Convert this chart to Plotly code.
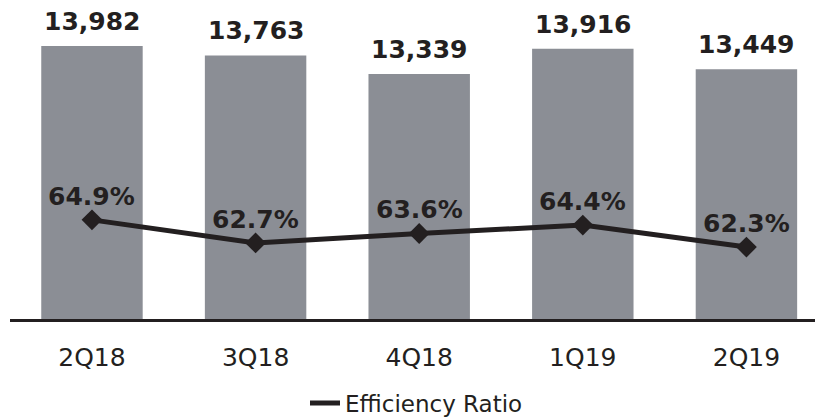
import plotly.graph_objects as go

quarters = ["2Q18", "3Q18", "4Q18", "1Q19", "2Q19"]
expenses = [13982, 13763, 13339, 13916, 13449]
efficiency = [64.9, 62.7, 63.6, 64.4, 62.3]

BAR_COLOR = "#8b8e95"
DARK = "#231f20"
FONT = "DejaVu Sans"

fig = go.Figure()
fig.add_trace(go.Bar(
    x=quarters, y=expenses, marker=dict(color=BAR_COLOR, line=dict(width=0)),
    width=0.62, showlegend=False, hoverinfo="skip",
))
fig.add_trace(go.Scatter(
    x=quarters, y=efficiency, yaxis="y2", mode="lines+markers",
    name="Efficiency Ratio", showlegend=False,
    line=dict(color=DARK, width=5),
    marker=dict(symbol="diamond", size=16, color=DARK),
))
# legend entry (line only)
fig.add_trace(go.Scatter(
    x=[None], y=[None], yaxis="y2", mode="lines", name="Efficiency Ratio",
    line=dict(color=DARK, width=5),
))

annotations = []
for q, v in zip(quarters, expenses):
    annotations.append(dict(
        x=q, y=v, xref="x", yref="y", text=f"<b>{v:,}</b>", showarrow=False,
        yanchor="bottom", yshift=8, font=dict(family=FONT, size=25, color=DARK),
    ))
for q, v in zip(quarters, efficiency):
    annotations.append(dict(
        x=q, y=v, xref="x", yref="y2", text=f"<b>{v:.1f}%</b>", showarrow=False,
        yanchor="bottom", yshift=7, font=dict(family=FONT, size=25, color=DARK),
    ))

fig.update_layout(
    width=815, height=417,
    margin=dict(l=2, r=0, t=0, b=97),
    paper_bgcolor="white", plot_bgcolor="white",
    font=dict(family=FONT, color=DARK),
    xaxis=dict(
        range=[-0.501, 4.468], showline=True, linecolor=DARK, linewidth=3,
        showgrid=False, ticks="", tickfont=dict(family=FONT, size=25, color=DARK),
        ticklabelstandoff=14, zeroline=False,
    ),
    yaxis=dict(range=[7742, 14848], visible=False, showgrid=False),
    yaxis2=dict(range=[55.43, 85.14], overlaying="y", visible=False, showgrid=False),
    legend=dict(
        orientation="h", x=0.5, xanchor="center", y=-0.27, yanchor="middle",
        font=dict(family=FONT, size=23, color=DARK),
    ),
    annotations=annotations,
)

fig.write_html("out.html")
